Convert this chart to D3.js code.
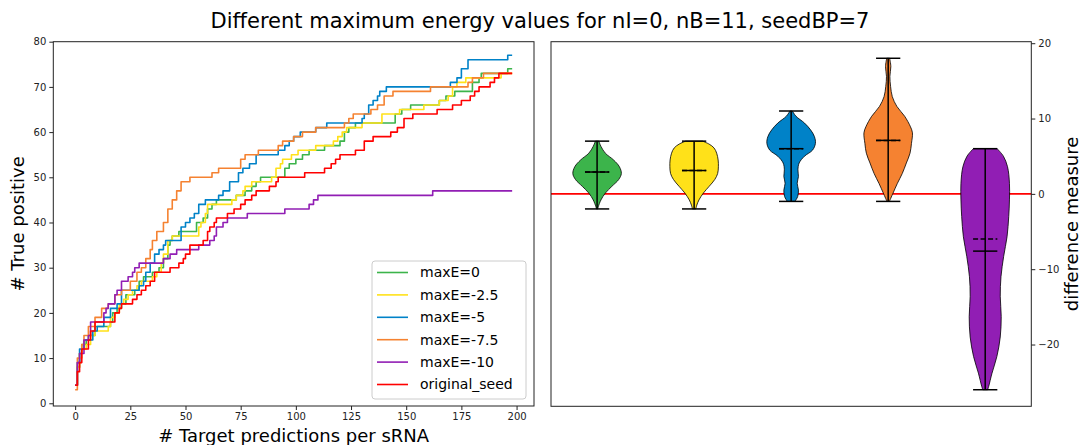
<html>
<head>
<meta charset="utf-8">
<style>
  body { margin: 0; background: #fff; }
  svg text { font-family: "DejaVu Sans", sans-serif; }
  .tick text { font-size: 10px; fill: #222; }
  .tick line { stroke: #222; }
  .frame { fill: none; stroke: #222; stroke-width: 1; }
  .curve { fill: none; stroke-width: 1.6; }
</style>
</head>
<body>
<svg id="chart" width="1081" height="445"></svg>
<script src="https://d3js.org/d3.v7.min.js"></script>
<script>
// ---- data ----
const seriesNames = ["maxE=0", "maxE=-2.5", "maxE=-5", "maxE=-7.5", "maxE=-10", "original_seed"]
const seriesColors = ["#3cb44b", "#ffe119", "#0082c8", "#f58231", "#911eb4", "#ff0000"]

// [x, value] step points, value holds until next point
const maxE0 = [[0,4],[1,8],[2,11],[3,13],[5,14],[6,15],[9,17],[16,18],[17,20],[19,21],[21,22],[23,24],[27,25],[29,27],[31,28],[35,29],[38,30],[40,32],[42,35],[43,36],[44,37],[47,38],[55,40],[58,41],[60,43],[62,44],[64,45],[73,46],[77,47],[80,48],[82,49],[84,50],[95,52],[97,53],[100,54],[103,55],[106,56],[113,57],[120,58],[122,60],[124,61],[127,62],[145,64],[148,65],[152,66],[165,67],[168,68],[172,69],[180,71],[183,72],[184,73],[196,74],[198,74]]
const maxE2_5 = [[0,4],[1,8],[2,11],[3,12],[5,13],[7,15],[9,16],[15,17],[16,19],[18,20],[20,22],[22,23],[24,24],[26,25],[28,26],[30,27],[35,28],[37,29],[39,31],[40,33],[42,36],[44,37],[56,39],[57,40],[59,42],[60,44],[71,45],[73,46],[76,47],[77,48],[80,49],[89,50],[91,52],[93,53],[94,54],[98,55],[101,56],[109,57],[117,58],[119,59],[121,60],[123,61],[130,62],[139,64],[147,65],[158,66],[165,67],[169,68],[171,70],[173,71],[177,72],[193,73],[198,73]]
const maxE5 = [[0,4],[1,9],[2,12],[4,14],[8,16],[10,17],[13,19],[16,21],[19,22],[21,25],[29,26],[31,27],[32,29],[34,31],[36,33],[38,34],[40,35],[41,36],[48,39],[50,40],[52,41],[54,42],[56,44],[59,45],[65,46],[67,47],[70,49],[74,51],[76,52],[79,53],[82,55],[92,56],[95,57],[97,58],[99,59],[102,60],[109,61],[114,62],[130,63],[131,64],[133,66],[135,67],[137,68],[138,69],[141,70],[170,71],[173,72],[175,74],[178,76],[196,77],[198,77]]
const maxE7_5 = [[0,3],[1,10],[3,13],[4,15],[6,17],[9,19],[12,21],[15,22],[18,24],[21,25],[25,27],[28,29],[30,30],[32,32],[34,34],[35,36],[37,38],[40,40],[42,43],[44,45],[46,47],[48,49],[52,50],[62,51],[65,52],[75,54],[77,55],[83,56],[92,57],[94,58],[99,59],[103,60],[109,61],[122,62],[124,63],[126,64],[134,65],[137,66],[140,68],[144,69],[161,70],[178,71],[180,72],[185,73],[198,73]]
const maxE10 = [[0,4],[1,9],[2,11],[4,14],[6,15],[7,18],[13,20],[14,21],[15,22],[18,24],[19,25],[21,27],[24,28],[26,29],[27,30],[29,31],[40,32],[43,33],[46,34],[56,35],[61,36],[63,37],[64,39],[67,40],[69,41],[78,42],[95,43],[106,44],[108,45],[110,46],[162,47],[198,47]]
const originalSeed = [[0,4],[1,7],[2,9],[3,12],[6,14],[7,16],[9,18],[18,20],[20,21],[21,22],[26,23],[28,24],[30,25],[32,26],[34,27],[36,29],[43,30],[47,31],[49,32],[50,33],[52,35],[58,36],[60,38],[61,39],[63,40],[64,41],[69,42],[72,43],[75,44],[77,45],[80,46],[82,47],[88,48],[91,49],[92,50],[104,51],[113,52],[116,53],[118,54],[120,55],[127,56],[131,58],[135,59],[143,60],[146,61],[149,63],[153,64],[164,65],[171,66],[175,67],[179,68],[181,69],[183,70],[188,71],[190,72],[192,73],[198,73]]
const allSeries = [maxE0, maxE2_5, maxE5, maxE7_5, maxE10, originalSeed]

const xTicksLeft = [0, 25, 50, 75, 100, 125, 150, 175, 200]
const yTicksLeft = [0, 10, 20, 30, 40, 50, 60, 70, 80]
const yTicksRight = [-20, -10, 0, 10, 20]

// violins: [value, relative half width]
const violinPositions = [1, 2, 3, 4, 5]
const violinMin = [-2, -2, -1, -1, -26]
const violinMax = [7, 7, 11, 18, 6]
const violinMean = [2.9, 3.1, 6.0, 7.1, -7.6]
const violinMedian = [2.9, 3.1, 6.0, 7.1, -6.0]
const profileGreen = [[7,0.07],[6.3,0.16],[5.4,0.34],[4.5,0.68],[3.6,0.92],[2.7,1],[1.9,0.89],[1,0.61],[0.1,0.34],[-0.8,0.16],[-1.7,0.05],[-2,0.03]]
const profileYellow = [[7,0.35],[6.6,0.62],[6.1,0.82],[5.4,0.93],[4.5,0.99],[3.6,1],[2.7,0.97],[1.9,0.85],[1,0.62],[0.1,0.38],[-0.8,0.2],[-1.5,0.11],[-2,0.07]]
const profileBlue = [[11,0.05],[10.3,0.2],[9.4,0.55],[8.5,0.8],[7.6,0.96],[6.7,1],[5.8,0.88],[5,0.55],[4.1,0.33],[3.2,0.28],[2.3,0.3],[1.4,0.25],[0.5,0.3],[-0.35,0.27],[-1,0.16]]
const profileOrange = [[18,0.06],[16.9,0.11],[15.6,0.07],[14.25,0.1],[12.9,0.17],[11.6,0.36],[10.3,0.68],[8.9,0.92],[8.1,1],[6.7,0.96],[5.4,0.9],[4.1,0.75],[2.7,0.58],[1.4,0.38],[0.1,0.2],[-1,0.05]]
const profilePurple = [[6,0.49],[5,0.75],[3.6,0.92],[1.4,1],[-0.8,1],[-3,0.97],[-5.7,0.9],[-8.3,0.76],[-11,0.65],[-13.6,0.62],[-16.3,0.66],[-19,0.62],[-21.6,0.48],[-23.8,0.28],[-25.6,0.14],[-26,0.1]]
const violinProfiles = [profileGreen, profileYellow, profileBlue, profileOrange, profilePurple]
const violinColors = ["#3cb44b", "#ffe119", "#0082c8", "#f58231", "#911eb4"]

// ---- layout ----
let svg = d3.select("#chart")
let left = {x0: 53.3, x1: 534, y0: 41.7, y1: 406}
let right = {x0: 551, x1: 1031.3, y0: 41.7, y1: 406.3}

svg.append("text")
    .attr("x", 540).attr("y", 28)
    .attr("text-anchor", "middle")
    .style("font-size", "21px")
    .text("Different maximum energy values for nI=0, nB=11, seedBP=7")

// ---- left panel: cumulative lines ----
let xL = d3.scaleLinear().domain([-9.9, 207.9]).range([left.x0, left.x1])
let yL = d3.scaleLinear().domain([-0.6, 80]).range([left.y1, left.y0])

svg.append("g")
    .attr("transform", "translate(" + left.x0 + ",0)")
    .call(d3.axisLeft(yL).tickValues(yTicksLeft).tickSize(4).tickPadding(3))
svg.append("g")
    .attr("transform", "translate(0," + left.y1 + ")")
    .call(d3.axisBottom(xL).tickValues(xTicksLeft).tickSize(4).tickPadding(3))

let line = d3.line()
    .x(d => xL(d[0]))
    .y(d => yL(d[1]))
    .curve(d3.curveStepAfter)

allSeries.forEach((s, i) => {
    svg.append("path")
        .datum(s)
        .attr("class", "curve")
        .attr("d", line)
        .attr("stroke", seriesColors[i])
        .attr("stroke-linejoin", "round")
})

svg.append("rect").attr("class", "frame")
    .attr("x", left.x0).attr("y", left.y0)
    .attr("width", left.x1 - left.x0).attr("height", left.y1 - left.y0)

svg.append("text")
    .attr("transform", "translate(24," + (left.y0 + left.y1) / 2 + ") rotate(-90)")
    .attr("text-anchor", "middle")
    .style("font-size", "18px")
    .text("# True positive")
svg.append("text")
    .attr("x", (left.x0 + left.x1) / 2).attr("y", 442)
    .attr("text-anchor", "middle")
    .style("font-size", "18px")
    .text("# Target predictions per sRNA")

// legend
let legend = svg.append("g").attr("transform", "translate(372,261)")
legend.append("rect")
    .attr("width", 154).attr("height", 138).attr("rx", 3)
    .attr("fill", "white").attr("fill-opacity", 0.8)
    .attr("stroke", "#ccc")
seriesNames.forEach((name, i) => {
    let yy = 11.5 + i * 22.4
    legend.append("line")
        .attr("x1", 5).attr("x2", 36).attr("y1", yy).attr("y2", yy)
        .attr("stroke", seriesColors[i]).attr("stroke-width", 1.6)
    legend.append("text")
        .attr("x", 48).attr("y", yy)
        .attr("dy", "0.35em")
        .style("font-size", "14px")
        .text(name)
})

// ---- right panel: violins ----
let xR = d3.scaleLinear().domain([0.525, 5.475]).range([right.x0, right.x1])
let yR = d3.scaleLinear().domain([-28.2, 20.2]).range([right.y1, right.y0])
let halfW = xR(0.25) - xR(0)
let capW = xR(0.125) - xR(0)

svg.append("line")
    .attr("x1", right.x0).attr("x2", right.x1)
    .attr("y1", yR(0)).attr("y2", yR(0))
    .attr("stroke", "#ff0000").attr("stroke-width", 1.6)

violinProfiles.forEach((prof, i) => {
    let cx = xR(violinPositions[i])
    let area = d3.area()
        .y(d => yR(d[0]))
        .x0(d => cx - d[1] * halfW)
        .x1(d => cx + d[1] * halfW)
        .curve(d3.curveCatmullRom)
    svg.append("path")
        .datum(prof)
        .attr("d", area)
        .attr("fill", violinColors[i])
        .attr("stroke", "black").attr("stroke-width", 0.8)

    let g = svg.append("g").attr("stroke", "black").attr("stroke-width", 1.5)
    g.append("line").attr("x1", cx).attr("x2", cx)
        .attr("y1", yR(violinMin[i])).attr("y2", yR(violinMax[i]))
    ;[violinMin[i], violinMax[i], violinMean[i]].forEach(v => {
        g.append("line").attr("x1", cx - capW).attr("x2", cx + capW)
            .attr("y1", yR(v)).attr("y2", yR(v))
    })
    g.append("line").attr("x1", cx - capW).attr("x2", cx + capW)
        .attr("y1", yR(violinMedian[i])).attr("y2", yR(violinMedian[i]))
        .attr("stroke-dasharray", "5,2.5")
})

svg.append("g")
    .attr("transform", "translate(" + right.x1 + ",0)")
    .call(d3.axisRight(yR).tickValues(yTicksRight).tickSize(4).tickPadding(3))

svg.append("rect").attr("class", "frame")
    .attr("x", right.x0).attr("y", right.y0)
    .attr("width", right.x1 - right.x0).attr("height", right.y1 - right.y0)

svg.append("text")
    .attr("transform", "translate(1078," + (right.y0 + right.y1) / 2 + ") rotate(-90)")
    .attr("text-anchor", "middle")
    .style("font-size", "18px")
    .text("difference measure")

svg.selectAll(".domain").remove()
</script>
</body>
</html>
